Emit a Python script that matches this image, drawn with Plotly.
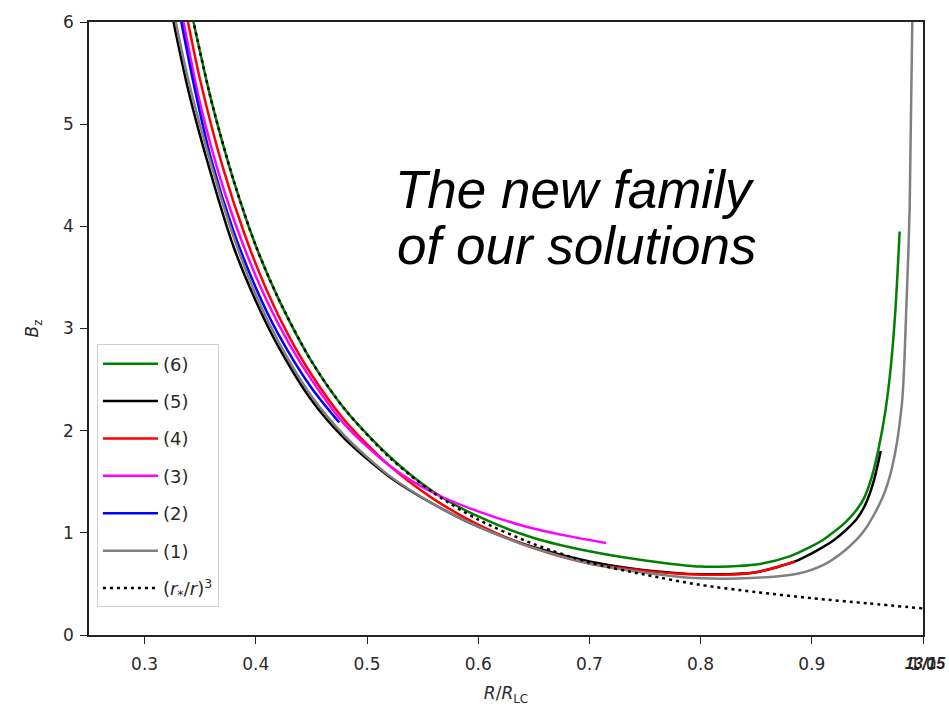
import plotly.graph_objects as go

# ---- data ----
# (6) green
x6 = [0.343, 0.36, 0.38, 0.40, 0.42, 0.45, 0.48, 0.52, 0.56, 0.60, 0.65, 0.70, 0.75, 0.80,
      0.85, 0.88, 0.90, 0.91, 0.92, 0.93, 0.94, 0.947, 0.954, 0.96, 0.966, 0.971, 0.975, 0.979]
y6 = [6.05, 5.23, 4.45, 3.81, 3.30, 2.68, 2.21, 1.75, 1.40, 1.16, 0.95, 0.82, 0.73, 0.67,
      0.69, 0.77, 0.87, 0.93, 1.01, 1.10, 1.22, 1.34, 1.55, 1.82, 2.18, 2.62, 3.15, 3.95]
# (5) black
x5 = [0.326, 0.34, 0.36, 0.38, 0.40, 0.42, 0.45, 0.48, 0.52, 0.56, 0.60, 0.65, 0.70, 0.75,
      0.80, 0.85, 0.885, 0.90, 0.91, 0.92, 0.93, 0.94, 0.947, 0.952, 0.957, 0.962]
y5 = [6.0, 5.3, 4.5, 3.8, 3.27, 2.83, 2.30, 1.92, 1.55, 1.28, 1.06, 0.86, 0.72, 0.635,
      0.595, 0.615, 0.72, 0.80, 0.86, 0.93, 1.02, 1.13, 1.25, 1.38, 1.56, 1.80]
# (4) red
x4 = [0.339, 0.35, 0.37, 0.39, 0.41, 0.43, 0.45, 0.48, 0.52, 0.56, 0.60, 0.65, 0.70, 0.745,
      0.78, 0.818, 0.85, 0.885]
y4 = [6.0, 5.43, 4.59, 3.92, 3.37, 2.92, 2.55, 2.10, 1.66, 1.33, 1.08, 0.85, 0.70, 0.635,
      0.60, 0.59, 0.615, 0.72]
# (3) magenta
x3 = [0.335, 0.35, 0.37, 0.39, 0.41, 0.43, 0.45, 0.48, 0.52, 0.56, 0.60, 0.64, 0.68, 0.715]
y3 = [6.0, 5.2, 4.4, 3.78, 3.27, 2.85, 2.50, 2.06, 1.66, 1.39, 1.21, 1.07, 0.97, 0.90]
# (2) blue
x2 = [0.333, 0.345, 0.36, 0.38, 0.40, 0.42, 0.45, 0.475]
y2 = [6.0, 5.35, 4.65, 3.95, 3.40, 2.95, 2.42, 2.08]
# (1) gray
x1 = [0.328, 0.34, 0.36, 0.38, 0.40, 0.42, 0.45, 0.48, 0.52, 0.56, 0.60, 0.65, 0.70, 0.75,
      0.80, 0.85, 0.887, 0.911, 0.93, 0.947, 0.963, 0.972, 0.981, 0.985, 0.988, 0.9905]
y1 = [6.0, 5.4, 4.6, 3.9, 3.33, 2.88, 2.34, 1.95, 1.56, 1.28, 1.06, 0.85, 0.70, 0.61,
      0.555, 0.56, 0.60, 0.69, 0.83, 1.02, 1.33, 1.63, 2.26, 3.20, 4.18, 6.1]
# (r*/r)^3 dotted
xd = [0.342, 0.36, 0.38, 0.40, 0.42, 0.45, 0.48, 0.52, 0.56, 0.60, 0.65, 0.70, 0.75, 0.80,
      0.85, 0.90, 0.95, 1.00]
yd = [6.10, 5.23, 4.45, 3.81, 3.30, 2.68, 2.21, 1.74, 1.39, 1.13, 0.89, 0.71, 0.59, 0.49,
      0.42, 0.36, 0.31, 0.26]

x_ticks = [0.3, 0.4, 0.5, 0.6, 0.7, 0.8, 0.9, 1.0]
x_tick_text = ["0.3", "0.4", "0.5", "0.6", "0.7", "0.8", "0.9", "1.0"]
y_ticks = [0, 1, 2, 3, 4, 5, 6]

series = [
    ("(6)", x6, y6, "#008000", "solid"),
    ("(5)", x5, y5, "#000000", "solid"),
    ("(4)", x4, y4, "#ff0000", "solid"),
    ("(3)", x3, y3, "#ff00ff", "solid"),
    ("(2)", x2, y2, "#0000ff", "solid"),
    ("(1)", x1, y1, "#808080", "solid"),
    ("(<i>r</i><sub>*</sub>/<i>r</i>)<sup>3</sup>", xd, yd, "#000000", "3px,4px"),
]

fig = go.Figure()
for i, (name, xs, ys, col, dash) in enumerate(series):
    fig.add_trace(go.Scatter(
        x=xs, y=ys, mode="lines", name=name, legendgroup=f"g{i}",
        line=dict(color=col, width=2.5, dash=dash, shape="spline", smoothing=0.8),
    ))

axis_font = dict(family="DejaVu Sans", size=17, color="#2a2a2a")
fig.update_layout(
    width=949, height=712,
    margin=dict(l=89, r=22, t=12, b=76),
    paper_bgcolor="white", plot_bgcolor="white",
    showlegend=True,
    legend=dict(
        x=0.0095, y=0.474, xanchor="left", yanchor="top",
        bordercolor="#d0d0d0", borderwidth=1, bgcolor="white",
        font=dict(family="DejaVu Sans", size=18, color="#2a2a2a"),
        tracegroupgap=11, traceorder="grouped", itemwidth=55,
    ),
    xaxis=dict(
        range=[0.25, 1.0], tickvals=x_ticks, ticktext=x_tick_text,
        showgrid=False, zeroline=False, showline=True, linecolor="#222", linewidth=1.5,
        mirror=True, ticks="outside", ticklen=7, tickcolor="#222", tickfont=axis_font,
        ticklabelstandoff=6,
        title=dict(text="<i>R</i>/<i>R</i><sub>LC</sub>", font=dict(family="DejaVu Sans", size=17, color="#2a2a2a"), standoff=14),
    ),
    yaxis=dict(
        range=[0, 6], tickvals=y_ticks,
        showgrid=False, zeroline=False, showline=True, linecolor="#222", linewidth=1.5,
        mirror=True, ticks="outside", ticklen=7, tickcolor="#222", tickfont=axis_font,
        ticklabelstandoff=3,
        title=dict(text="<i>B</i><sub>z</sub>", font=dict(family="DejaVu Sans", size=17, color="#2a2a2a"), standoff=20),
    ),
)

fig.add_annotation(
    text="<i>The new family</i>", xref="paper", yref="paper",
    x=(577 - 89) / 838, y=(636 - 182) / 624, xanchor="center", yanchor="middle",
    showarrow=False, font=dict(family="Liberation Sans", size=53, color="black"),
)
fig.add_annotation(
    text="<i>of our solutions</i>", xref="paper", yref="paper",
    x=(579 - 89) / 838, y=(636 - 240) / 624, xanchor="center", yanchor="middle",
    showarrow=False, font=dict(family="Liberation Sans", size=53, color="black"),
)
fig.add_annotation(
    text="<b><i>13/15</i></b>", xref="paper", yref="paper",
    x=(930 - 89) / 838, y=(636 - 665) / 624, xanchor="center", yanchor="middle",
    showarrow=False, font=dict(family="Liberation Sans", size=16, color="#222"),
)

fig.write_html("out.html")
